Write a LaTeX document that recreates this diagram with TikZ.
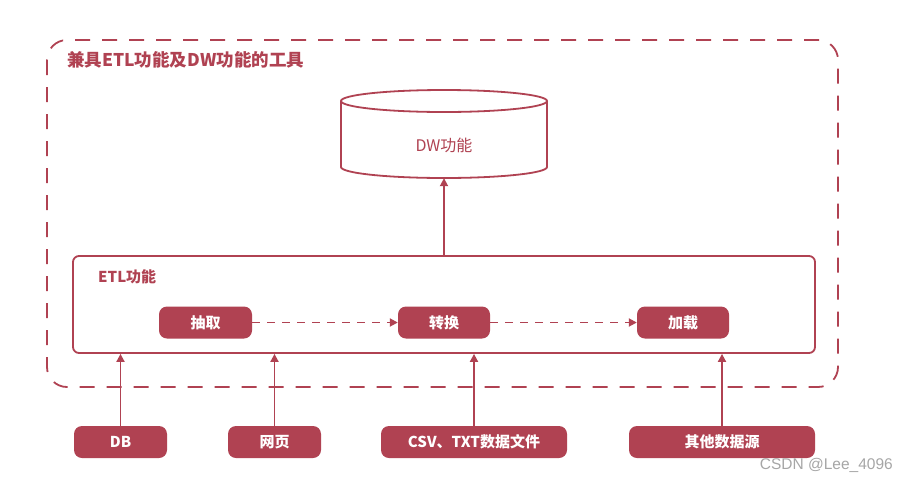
\documentclass[tikz,border=0pt]{standalone}
\usepackage{fontspec}
\newfontfamily\cjk{Noto Sans CJK SC}
\newfontfamily\wm{Liberation Sans}
\usetikzlibrary{arrows.meta}
\definecolor{etlred}{RGB}{176,66,82}
\tikzset{
  x=1pt, y=-1pt,
  line/.style={draw=etlred, line width=1.8pt},
  pill/.style={fill=etlred, rounded corners=8pt, text=white, font=\cjk\fontsize{15}{17}\selectfont\bfseries, minimum height=32pt, inner sep=0pt},
  arr/.style={line, -{Triangle[length=8pt,width=8pt]}},
  darr/.style={line, dash pattern=on 8pt off 7pt, -{Triangle[length=8pt,width=8pt]}},
  lbl/.style={text=etlred, font=\cjk\fontsize{15}{17}\selectfont\bfseries, inner sep=0pt, anchor=west}
}
\begin{document}
\begin{tikzpicture}
\useasboundingbox[fill=white] (0,0) rectangle (897,480);
% outer dashed box
\draw[line, dash pattern=on 15pt off 12pt, rounded corners=20pt] (47,40) rectangle (838,387);
\node[lbl, font=\cjk\fontsize{17.5}{19}\selectfont\bfseries] (title) at (67,60) {兼具ETL功能及DW功能的工具};
% cylinder
\node[minimum width=206pt, minimum height=88pt, inner sep=0pt] (dw) at (444,134) {};
\node[text=etlred, font=\cjk\fontsize{16}{18}\selectfont, inner sep=0pt] (dwt) at (444,145) {DW功能};
\draw[line] (444,101) ellipse [x radius=103pt, y radius=11pt];
\draw[line] (341,101) -- (341,167) arc[start angle=180, end angle=360, x radius=103pt, y radius=11pt] -- (547,101);
% ETL box
\node[line, rounded corners=6pt, minimum width=742pt, minimum height=97pt, inner sep=0pt] (etl) at (444,304.5) {};
\node[lbl] (etll) at (98,277) {ETL功能};
\node[pill, minimum width=93pt] (cq) at (205.5,322.5) {抽取};
\node[pill, minimum width=92pt] (zh) at (444,322.5) {转换};
\node[pill, minimum width=92pt] (jz) at (683,322.5) {加载};
\draw[darr] (cq) -- (zh);
\draw[darr] (zh) -- (jz);
\draw[arr] (etl.north) -- (dw.south);
% sources
\node[pill, minimum width=93pt] (db) at (120.5,442) {DB};
\node[pill, minimum width=93pt] (wy) at (274.5,442) {网页};
\node[pill, minimum width=186pt] (csv) at (474,442) {CSV、TXT数据文件};
\node[pill, minimum width=186pt] (qt) at (722,442) {其他数据源};
\draw[arr] (db.north) -- (db.north |- etl.south);
\draw[arr] (wy.north) -- (wy.north |- etl.south);
\draw[arr] (csv.north) -- (csv.north |- etl.south);
\draw[arr] (qt.north) -- (qt.north |- etl.south);
% watermark
\node[text=black!35, font=\wm\fontsize{15.5}{17}\selectfont, inner sep=0pt, anchor=east] (wmk) at (893,465) {CSDN @Lee\_4096};
\end{tikzpicture}
\end{document}
